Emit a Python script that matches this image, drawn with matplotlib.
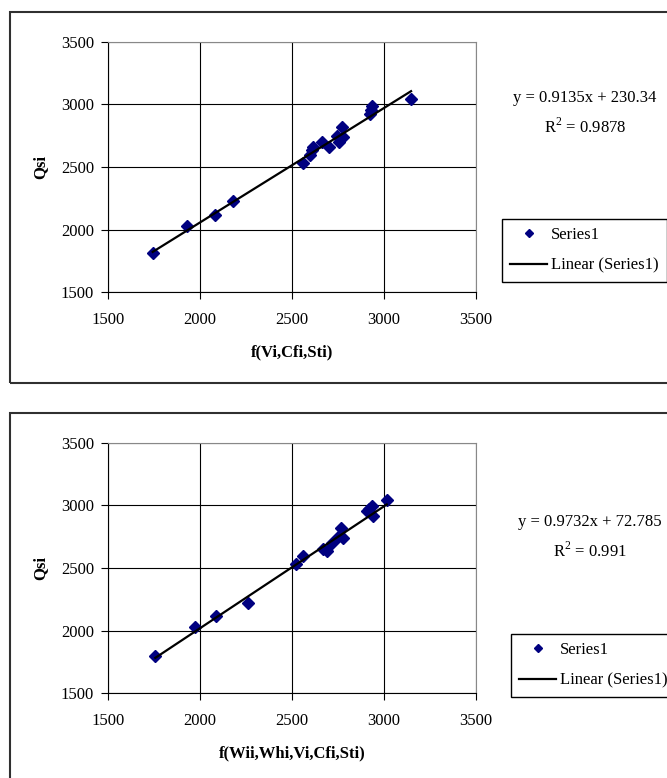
import matplotlib
matplotlib.use('Agg')
from matplotlib import pyplot as plt
from matplotlib.lines import Line2D
from matplotlib.patches import Rectangle

plt.rcParams['font.family'] = ['Liberation Serif', 'DejaVu Serif']
plt.rcParams['mathtext.fontset'] = 'custom'
plt.rcParams['mathtext.rm'] = 'Liberation Serif'

# chart 1: Qsi vs f(Vi,Cfi,Sti)
x1 = [1743, 1928, 2081, 2177, 2558, 2600, 2608, 2616, 2665, 2703,
      2746, 2757, 2775, 2772, 2924, 2928, 2935, 3147]
y1 = [1810, 2030, 2118, 2232, 2535, 2598, 2637, 2656, 2700, 2656,
      2748, 2701, 2743, 2820, 2920, 2955, 2990, 3042]
slope1, icpt1 = 0.9135, 230.34
eq1 = 'y = 0.9135x + 230.34'
r2_1 = 'R$^{2}$ = 0.9878'
xlab1 = 'f(Vi,Cfi,Sti)'

# chart 2: Qsi vs f(Wii,Whi,Vi,Cfi,Sti)
x2 = [1757, 1973, 2085, 2263, 2522, 2558, 2667, 2689, 2719, 2750,
      2775, 2765, 2906, 2920, 2935, 2942, 3015]
y2 = [1800, 2027, 2115, 2224, 2528, 2597, 2653, 2637, 2699, 2747,
      2739, 2821, 2955, 2973, 2995, 2915, 3042]
slope2, icpt2 = 0.9732, 72.785
eq2 = 'y = 0.9732x + 72.785'
r2_2 = 'R$^{2}$ = 0.991'
xlab2 = 'f(Wii,Whi,Vi,Cfi,Sti)'

ticks = [1500, 2000, 2500, 3000, 3500]
FS = 12

W, H = 667, 778
fig = plt.figure(figsize=(W / 100, H / 100), dpi=100)

def px(x, y):
    return x / W, 1 - y / H

def chart(top_px, x, y, slope, icpt, eq, r2, xlab, eq_xy, leg_xy):
    # outer chart frame
    fig.patches.append(Rectangle(px(10, top_px + 371), 700 / W, 371 / H,
                                 transform=fig.transFigure, fill=False,
                                 edgecolor='#303030', lw=1.5))
    p_top = top_px + 29.7
    p_bot = top_px + 280.3
    ph = p_bot - p_top
    ax = fig.add_axes([108 / W, 1 - p_bot / H, 368 / W, ph / H])
    ax.set_xlim(1500, 3500)
    ax.set_ylim(1500, 3500)
    ax.set_xticks(ticks)
    ax.set_yticks(ticks)
    ax.grid(True, color='black', lw=0.8)
    ax.set_axisbelow(True)
    for s in ['top', 'right']:
        ax.spines[s].set_color('#888888')
    for s in ['left', 'bottom']:
        ax.spines[s].set_color('black')
    ax.tick_params(direction='out', length=5, width=0.8, labelsize=FS)
    ax.tick_params(axis='x', pad=9)
    ax.tick_params(axis='y', pad=5)
    ax.plot(x, y, 'D', color='#000080', markersize=6, ls='none', zorder=3)
    xs = [min(x), max(x)]
    ax.plot(xs, [slope * v + icpt for v in xs], color='black', lw=1.6, zorder=4)
    ax.set_xlabel(xlab, fontsize=FS, fontweight='bold', va='center')
    ax.xaxis.set_label_coords(0.5, -(top_px + 340.7 - p_bot) / ph)
    ax.set_ylabel('Qsi', fontsize=FS, fontweight='bold', va='center')
    ax.yaxis.set_label_coords(-(108 - 40) / 368, 0.5)
    ex, ey = px(*eq_xy)
    fig.text(ex, ey, eq, fontsize=FS, ha='center', va='center')
    ex, ey = px(eq_xy[0], eq_xy[1] + 29)
    fig.text(ex, ey, r2, fontsize=FS, ha='center', va='center')
    handles = [Line2D([], [], marker='D', color='#000080', ls='none', markersize=4.5),
               Line2D([], [], color='black', lw=1.6)]
    fig.legend(handles, ['Series1', 'Linear (Series1)'], loc='upper left',
               bbox_to_anchor=px(*leg_xy), borderaxespad=0, fontsize=FS,
               frameon=True, fancybox=False, edgecolor='black', framealpha=1,
               handlelength=2.2, handletextpad=0.25, borderpad=0.5,
               labelspacing=0.85).get_frame().set_linewidth(1.0)

chart(12, x1, y1, slope1, icpt1, eq1, r2_1, xlab1, (585, 98), (502, 219))
chart(413, x2, y2, slope2, icpt2, eq2, r2_2, xlab2, (590, 522), (511, 634))

fig.savefig('out.png', dpi=100)
